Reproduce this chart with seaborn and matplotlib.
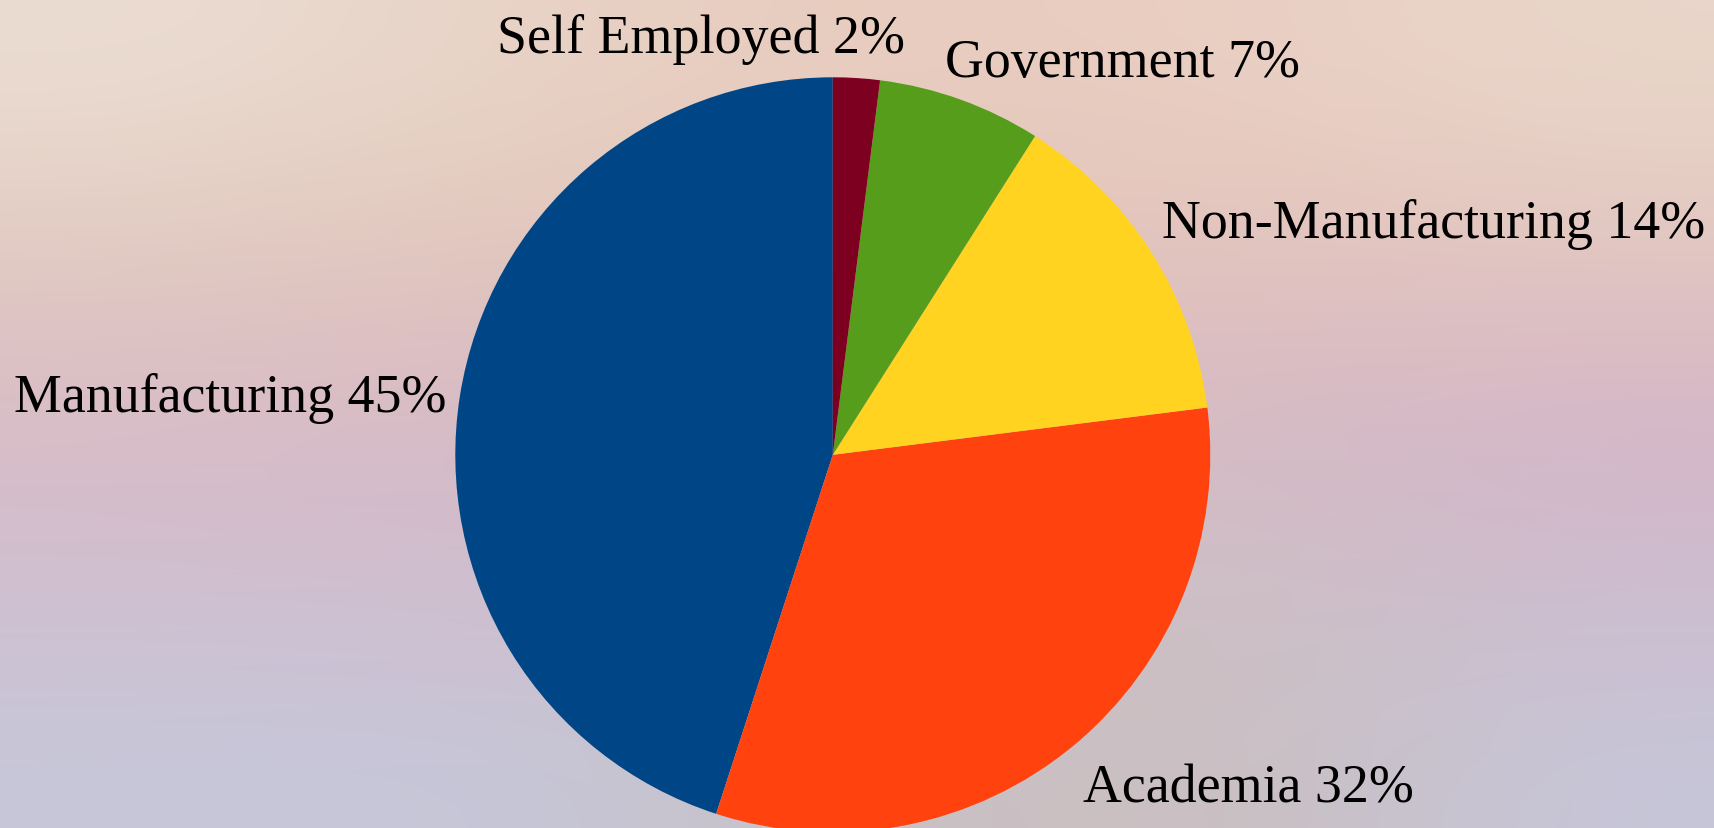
import numpy as np
import matplotlib
matplotlib.use("Agg")
import matplotlib.pyplot as plt
from matplotlib.colors import to_rgb
import seaborn as sns

# ---- data ----
categories = ["Manufacturing", "Academia", "Non-Manufacturing", "Government", "Self Employed"]
shares = [45, 32, 14, 7, 2]
slice_colors = ["#004586", "#ff420e", "#ffd320", "#579d1c", "#7e0021"]

# ---- style / layout ----
sns.set_theme(style="white")
plt.rcParams["font.family"] = ["Liberation Serif", "DejaVu Serif"]

W, H, DPI = 1715, 829, 100
fig = plt.figure(figsize=(W / DPI, H / DPI), dpi=DPI)

# background gradient
bg_grid = [
    ["#EBDDD3", "#E8D3C6", "#E8CCBE", "#EACEC2", "#EAD6CA"],
    ["#E2CBC0", "#E2C6BB", "#E3C5B9", "#E3C3BC", "#E2C7BF"],
    ["#D9BCC6", "#D8B9C6", "#D8B8C4", "#D6BBC4", "#D6B5C8"],
    ["#D0BFCF", "#CFBDCF", "#CFBFCA", "#CEC0C3", "#CDBCCF"],
    ["#C7C7D9", "#C5C7DA", "#C9C1C5", "#CBBEBD", "#C6C6D9"],
]
bg = np.array([[to_rgb(c) for c in row] for row in bg_grid])
bax = fig.add_axes([0, 0, 1, 1])
bax.imshow(bg, extent=(0, 1, 0, 1), aspect="auto", interpolation="bicubic", zorder=0)
bax.set_axis_off()

# pie axes: center and radius in pixels
cx, cy, R = 832.8, H - 455.8, 377.5
ax = fig.add_axes([0, 0, 1, 1])
ax.patch.set_alpha(0)
wedges, _ = ax.pie(shares, colors=slice_colors, startangle=90, counterclock=True,
                   wedgeprops=dict(linewidth=0))
ax.set_xlim(-cx / R, (W - cx) / R)
ax.set_ylim(-cy / R, (H - cy) / R)
ax.set_aspect("auto")
ax.set_axis_off()

# label placement (offset in pixels from wedge mid-point on rim)
label_layout = {
    "Manufacturing": ((-13, -15), "right"),
    "Academia": ((10, -56), "left"),
    "Non-Manufacturing": ((10, 16), "left"),
    "Government": ((-16, 24), "left"),
    "Self Employed": ((48, 26), "right"),
}
for w, name, val in zip(wedges, categories, shares):
    mid = np.deg2rad((w.theta1 + w.theta2) / 2)
    xy = (np.cos(mid), np.sin(mid))
    off, ha = label_layout[name]
    ax.annotate(f"{name} {val}%", xy=xy, xytext=off, textcoords="offset pixels",
                ha=ha, va="baseline", fontsize=38.8, color="black")

fig.savefig("out.png", dpi=DPI)
